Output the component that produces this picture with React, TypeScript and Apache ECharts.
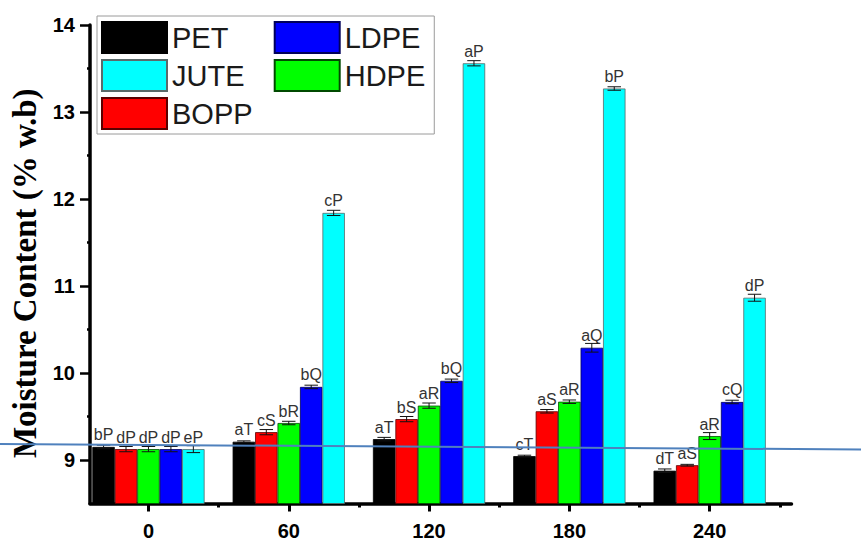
import React, { useEffect, useRef } from 'react';
import * as echarts from 'echarts';

// Storage time (categories on the x axis)
const times = [0, 60, 120, 180, 240];
const xTickValues = [0, 60, 120, 180, 240];
const xMinorTickValues = [30, 90, 150, 210, 270];
const yTickValues = [9, 10, 11, 12, 13, 14];
const yMinorTickValues = [9.5, 10.5, 11.5, 12.5, 13.5];

// Moisture content (% w.b) per packaging material
const PET = [9.15, 9.21, 9.24, 9.045, 8.877];
const BOPP = [9.125, 9.32, 9.47, 9.56, 8.94];
const HDPE = [9.125, 9.425, 9.625, 9.67, 9.275];
const LDPE = [9.125, 9.84, 9.91, 10.29, 9.667];
const JUTE = [9.125, 11.84, 13.56, 13.27, 10.865];

// Standard deviations (error bars)
const PET_err = [0.02, 0.01, 0.02, 0.01, 0.02];
const BOPP_err = [0.03, 0.03, 0.03, 0.02, 0.01];
const HDPE_err = [0.03, 0.02, 0.03, 0.02, 0.04];
const LDPE_err = [0.03, 0.02, 0.02, 0.05, 0.02];
const JUTE_err = [0.04, 0.03, 0.03, 0.02, 0.04];

// Significance letters
const PET_lab = ['bP', 'aT', 'aT', 'cT', 'dT'];
const BOPP_lab = ['dP', 'cS', 'bS', 'aS', 'aS'];
const HDPE_lab = ['dP', 'bR', 'aR', 'aR', 'aR'];
const LDPE_lab = ['dP', 'bQ', 'bQ', 'aQ', 'cQ'];
const JUTE_lab = ['eP', 'cP', 'aP', 'bP', 'dP'];

const materials = [
  { name: 'PET', values: PET, err: PET_err, labels: PET_lab, color: '#000000', border: '#000000' },
  { name: 'BOPP', values: BOPP, err: BOPP_err, labels: BOPP_lab, color: '#ff0000', border: '#5a0000' },
  { name: 'HDPE', values: HDPE, err: HDPE_err, labels: HDPE_lab, color: '#00ff00', border: '#004a00' },
  { name: 'LDPE', values: LDPE, err: LDPE_err, labels: LDPE_lab, color: '#0000ff', border: '#00005a' },
  { name: 'JUTE', values: JUTE, err: JUTE_err, labels: JUTE_lab, color: '#00ffff', border: '#5a6a6a' },
];

const legendOrder = ['PET', 'JUTE', 'BOPP', 'LDPE', 'HDPE'];
const legendFirstColumn = ['PET', 'JUTE', 'BOPP'];

const SANS = 'Liberation Sans, Arial, sans-serif';
const SERIF = 'Liberation Serif, Times New Roman, serif';

export default function App() {
  const ref = useRef<HTMLDivElement>(null);

  useEffect(() => {
    if (!ref.current) return;
    const chart = echarts.init(ref.current, undefined, { renderer: 'svg' });

    const nSeries = materials.length;
    const catGap = 0.2;

    const barSeries = materials.map((m) => ({
      name: m.name,
      type: 'bar',
      xAxisIndex: 0,
      yAxisIndex: 0,
      barGap: '0%',
      barCategoryGap: '20%',
      itemStyle: { color: m.color, borderColor: m.border, borderWidth: 0.8 },
      label: {
        show: true,
        position: 'top',
        distance: 4,
        color: '#333333',
        fontSize: 16,
        fontFamily: SANS,
        formatter: (p: any) => m.labels[p.dataIndex],
      },
      data: times.map((t, i) => [t, m.values[i]]),
      z: 2,
    }));

    const errData: number[][] = [];
    materials.forEach((m, k) => {
      times.forEach((t, i) => errData.push([t, m.values[i], m.err[i], k]));
    });

    const errSeries = {
      name: 'err',
      type: 'custom',
      xAxisIndex: 0,
      yAxisIndex: 0,
      z: 5,
      silent: true,
      data: errData,
      renderItem: (params: any, api: any) => {
        const x = api.value(0);
        const v = api.value(1);
        const e = api.value(2);
        const k = api.value(3);
        const band = api.size([60, 0])[0];
        const bw = (band * (1 - catGap)) / nSeries;
        const cx = api.coord([x, v])[0] + (k - (nSeries - 1) / 2) * bw;
        const yTop = api.coord([x, v + e])[1];
        const yBot = api.coord([x, v - e])[1];
        const cap = bw * 0.3;
        const style = { stroke: '#111', lineWidth: 1 };
        return {
          type: 'group',
          children: [
            { type: 'line', shape: { x1: cx, y1: yTop, x2: cx, y2: yBot }, style },
            { type: 'line', shape: { x1: cx - cap, y1: yTop, x2: cx + cap, y2: yTop }, style },
            { type: 'line', shape: { x1: cx - cap, y1: yBot, x2: cx + cap, y2: yBot }, style },
          ],
        };
      },
    };

    const option: any = {
      animation: false,
      backgroundColor: '#ffffff',
      grid: { left: 89, right: 69.5, top: 25, bottom: 37.5 },
      legend: {
        orient: 'vertical',
        left: 97,
        top: 16,
        height: 110,
        itemWidth: 65,
        itemHeight: 31,
        itemGap: 5,
        icon: 'rect',
        padding: [5, 9, 4, 4],
        borderColor: '#9a9a9a',
        borderWidth: 1,
        backgroundColor: '#ffffff',
        textStyle: { fontSize: 29, fontFamily: SANS, color: '#1a1a1a' },
        // trailing no-break spaces widen the first legend column
        formatter: (name: string) =>
          legendFirstColumn.indexOf(name) >= 0 ? name + '\u00a0\u00a0' : name,
        data: legendOrder,
        selectedMode: false,
        z: 10,
      },
      xAxis: [
        {
          type: 'value',
          min: -25,
          max: 275,
          splitLine: { show: false },
          axisLine: { onZero: false, lineStyle: { color: '#000', width: 3.5 } },
          axisTick: { customValues: xTickValues, length: 8, lineStyle: { color: '#000', width: 3 } },
          axisLabel: {
            customValues: xTickValues,
            margin: 17,
            color: '#000',
            fontSize: 20,
            fontWeight: 'bold',
            fontFamily: SANS,
          },
        },
        {
          type: 'value',
          position: 'bottom',
          min: -25,
          max: 275,
          splitLine: { show: false },
          axisLine: { show: false, onZero: false },
          axisTick: { customValues: xMinorTickValues, length: 4, lineStyle: { color: '#000', width: 3 } },
          axisLabel: { show: false },
        },
      ],
      yAxis: [
        {
          type: 'value',
          position: 'left',
          min: 8.5,
          max: 14,
          splitLine: { show: false },
          axisLine: { onZero: false, lineStyle: { color: '#000', width: 3.5 } },
          axisTick: { customValues: yTickValues, length: 10, lineStyle: { color: '#000', width: 2.5 } },
          axisLabel: {
            customValues: yTickValues,
            margin: 15,
            color: '#000',
            fontSize: 20,
            fontWeight: 'bold',
            fontFamily: SANS,
          },
          name: 'Moisture Content (% w.b)',
          nameLocation: 'middle',
          nameGap: 49,
          nameTextStyle: {
            fontFamily: SERIF,
            fontWeight: 'bold',
            fontSize: 33,
            color: '#000',
            padding: [0, 18, 0, 0],
          },
        },
        {
          type: 'value',
          position: 'left',
          min: 8.5,
          max: 14,
          splitLine: { show: false },
          axisLine: { show: false, onZero: false },
          axisTick: { customValues: yMinorTickValues, length: 3, lineStyle: { color: '#000', width: 2.5 } },
          axisLabel: { show: false },
        },
      ],
      graphic: [
        {
          type: 'line',
          z: 100,
          silent: true,
          shape: { x1: 0, y1: 444, x2: 861, y2: 449.5 },
          style: { stroke: '#4f81bd', lineWidth: 2 },
        },
      ],
      series: [...barSeries, errSeries],
    };

    chart.setOption(option);
    return () => chart.dispose();
  }, []);

  return (
    <div
      ref={ref}
      style={{ position: 'absolute', left: 0, top: 0, width: 861, height: 541, background: '#fff' }}
    />
  );
}
